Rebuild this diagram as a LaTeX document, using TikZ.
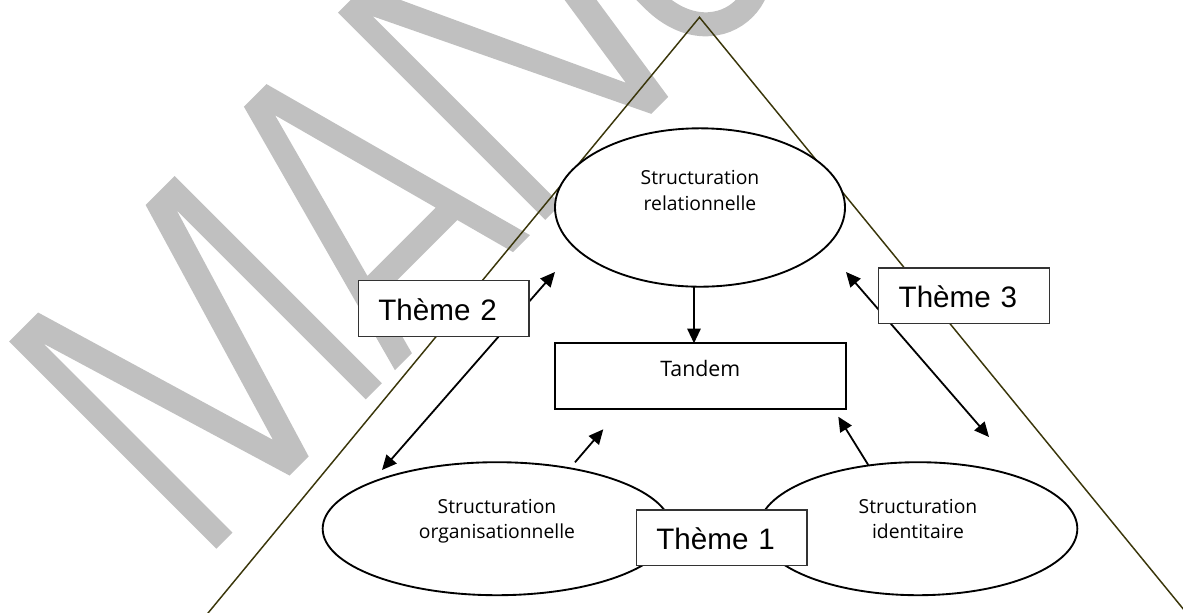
\documentclass[tikz,border=0pt]{standalone}
\usepackage{fontspec}
\newfontfamily\diagfont{Open Sans}
\newfontfamily\themefont{Liberation Sans}
\usetikzlibrary{shapes.geometric,arrows.meta}
\definecolor{wmgray}{RGB}{192,192,192}
\definecolor{triline}{RGB}{58,54,10}
\begin{document}
\begin{tikzpicture}[x=0.75pt,y=-0.75pt,
  ell/.style={draw=black, line width=1.4pt, fill=white, ellipse, inner sep=0pt},
  lbl/.style={font=\diagfont\fontsize{14.5pt}{20pt}\selectfont, align=center, inner sep=0pt},
  themebox/.style={draw=black!80, line width=0.9pt, fill=white, rectangle,
    inner ysep=0pt, inner xsep=15pt, text width=98pt, align=left,
    minimum height=41.6pt, text height=17.6pt, text depth=0pt,
    font=\themefont\fontsize{22.2pt}{26pt}\selectfont},
  conn/.style={line width=1.35pt, -{Triangle[length=11pt,width=10pt]}},
  dconn/.style={line width=1.35pt, {Triangle[length=11pt,width=10pt]}-{Triangle[length=11pt,width=10pt]}},
  tri/.style={draw=triline, line width=1.1pt}
  ]
\useasboundingbox (0,0) rectangle (1183,612);
\clip (0,0) rectangle (1183,612);

% watermark
\begin{scope}[shift={(382.54,382.54)}, x={(0.53033pt,0.53033pt)}, y={(-0.53033pt,0.53033pt)}]
 \fill[wmgray] (-235,0) -- (-235,293) -- (-194,293) -- (-118,37) -- (-42,293) -- (-1,293) -- (-1,0) -- (-23.7,0) -- (-23.7,267.6) -- (-104.5,0) -- (-131.5,0) -- (-212.3,267.6) -- (-212.3,0) -- cycle;
 \fill[wmgray, even odd rule] (17.5,0) -- (97,293) -- (129,293) -- (208.5,0) -- (184.5,0) -- (167.8,62) -- (58.2,62) -- (41.5,0) -- cycle
   (113,265) -- (161.3,86) -- (64.7,86) -- cycle;
 \fill[wmgray] (230,0) -- (230,293) -- (267,293) -- (384,40) -- (422,293) -- (448,293) -- (404,0) -- (380,0) -- (252,266) -- (252,0) -- cycle;
 \draw[wmgray, line width=18pt] (462,293) -- (462,80) .. controls (462,-15) and (578,-15) .. (578,80) -- (578,293);
\end{scope}

% triangle
\coordinate (apex) at (699.5,17.3);
\coordinate (tl) at (196.5,627);
\coordinate (tr) at (1198,627);
\draw[tri] (tl) -- (apex) -- (tr);

% free ends of connectors
\coordinate (a1s) at (694,287);
\coordinate (a1e) at (694,343.3);
\coordinate (t2a) at (382,470);
\coordinate (t2b) at (555,272);
\coordinate (t3a) at (846,272);
\coordinate (t3b) at (989,437);
\coordinate (o1) at (575,462.3);
\coordinate (o2) at (603.3,429.3);
\coordinate (i1) at (868.3,465);
\coordinate (i2) at (838.3,416.7);

\draw[conn] (a1s) -- (a1e);
\draw[dconn] (t2a) -- (t2b);
\draw[dconn] (t3a) -- (t3b);
\draw[conn] (o1) -- (o2);
\draw[conn] (i1) -- (i2);

% ellipses
\node[ell, minimum width=217.5pt, minimum height=118.8pt] (rel) at (700,207.5) {};
\node[ell, minimum width=261.5pt, minimum height=99.75pt] (org) at (497,528.7) {};
\node[ell, minimum width=239pt, minimum height=99.75pt] (ide) at (918,528.7) {};

% Tandem
\node[draw=black, line width=1.4pt, fill=white, minimum width=218pt, minimum height=49.4pt,
  inner sep=0pt, text height=11.4pt, text depth=11.6pt,
  font=\diagfont\fontsize{16pt}{19pt}\selectfont] (tandem) at (700.3,376.2) {Tandem};

% theme boxes
\node[themebox, minimum width=128pt] (th2) at (443.7,308.4) {Thème 2};
\node[themebox, minimum width=128pt] (th3) at (964,295.7) {Thème 3};
\node[themebox, minimum width=127.5pt] (th1) at (721.7,537.8) {Thème 1};

% ellipse texts (anchor = baseline of last line)
\node[lbl, anchor=base] (reltxt) at (700,210.7) {Structuration\\relationnelle};
\node[lbl, anchor=base, font=\diagfont\fontsize{14.5pt}{18.75pt}\selectfont] (orgtxt) at (497,538.3) {Structuration\\organisationnelle};
\node[lbl, anchor=base, font=\diagfont\fontsize{14.5pt}{18.75pt}\selectfont] (idetxt) at (918,538.3) {Structuration\\identitaire};
\end{tikzpicture}
\end{document}
